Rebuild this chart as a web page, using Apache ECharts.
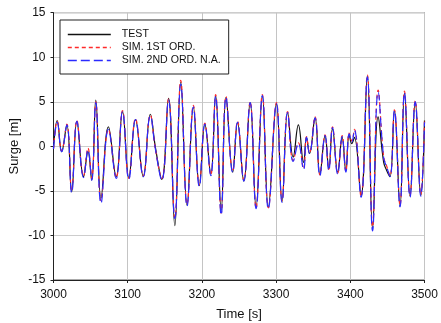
<!DOCTYPE html>
<html><head><meta charset="utf-8">
<script src="https://cdn.jsdelivr.net/npm/echarts@6/dist/echarts.min.js"></script>
<style>html,body{margin:0;padding:0;background:#fff}#c{width:441px;height:323px}</style>
</head><body><div id="c"></div>
<script>
var time  = [3000,3005,3011,3018,3024.5,3031.5,3040.5,3046.5,3051.5,3057,3064,3074,3084.5,3093,3101.5,3110.5,3121,3130.5,3137.5,3146,3155,3163.5,3171.5,3180,3188.5,3196.5,3204,3212,3218.5,3226,3232.5,3241.5,3248,3256.5,3265,3273,3281.5,3289.5,3300.5,3308,3315.5,3323,3330,3337,3341,3345,3352.5,3359,3366,3371,3376,3383,3389,3394,3398.5,3402,3405.5,3414.5,3423,3430,3437.5,3445,3449,3453.5,3459.5,3467,3473,3480.5,3487.5,3495,3500];
var test  = [-0.2,2.9,-0.6,2.4,-5.1,2.8,-3.4,-0.6,-3.8,5.2,-5.8,2.2,-3.4,3.9,-3.5,3.0,-3.4,3.6,-0.2,-3.7,5.4,-8.9,7.2,-6.6,4.4,-4.4,2.5,-3.1,5.7,-7.2,5.5,-2.9,2.7,-3.9,4.9,-6.8,5.7,-6.8,4.8,-6.2,3.8,-1.2,2.4,-1.8,1.0,-0.8,3.2,-3.1,1.2,-2.5,2.0,-2.9,1.0,-2.7,1.3,0.3,1.0,-5.5,7.9,-9.2,3.3,-1.8,-2.7,-3.4,4.0,-6.7,6.0,-5.6,5.0,-5.5,2.9];
var sim1  = [-0.3,2.8,-0.5,2.5,-5.0,2.9,-3.3,-0.2,-3.6,5.0,-6.1,1.9,-3.5,4.0,-3.6,3.1,-3.3,3.5,-0.4,-3.6,5.3,-8.0,7.4,-6.5,4.6,-4.3,2.6,-3.2,5.8,-7.5,5.6,-2.8,2.8,-3.8,5.0,-6.9,5.8,-6.9,4.9,-6.1,3.9,-1.6,0.4,-2.5,1.1,-0.7,3.3,-3.2,1.3,-2.6,2.2,-3.0,1.2,-2.8,1.5,0.6,1.9,-5.6,8.0,-9.0,6.3,-1.2,-2.2,-3.3,4.1,-6.6,6.2,-5.5,5.1,-5.4,2.8];
var sim2  = [-0.3,2.7,-0.6,2.4,-5.2,2.8,-3.5,-0.4,-3.8,4.9,-6.4,1.9,-3.6,3.9,-3.7,3.0,-3.4,3.4,-0.4,-3.8,5.2,-8.1,7.0,-6.7,4.4,-4.5,2.5,-3.3,5.6,-7.7,5.5,-2.9,2.7,-3.9,4.9,-7.0,5.7,-7.0,4.8,-6.3,3.8,-1.7,0.3,-2.6,1.0,-0.8,3.2,-3.3,1.2,-2.7,2.1,-3.1,1.1,-2.9,1.4,0.5,1.8,-5.7,7.8,-9.5,6.1,-1.3,-2.3,-3.4,4.0,-6.8,6.0,-5.7,5.0,-5.6,2.7];
var yTicks = [-15,-10,-5,0,5,10,15];
var xTicks = [3000,3100,3200,3300,3400,3500];
var names = ['TEST','SIM. 1ST ORD.','SIM. 2ND ORD. N.A.'];
var colors = ['#111111','#ff2a2a','#2a2aff'];
var dashes = ['solid',[4,3],[9,4]];

function pairs(v){ return time.map(function(t,i){ return [t, v[i]]; }); }

var chart = echarts.init(document.getElementById('c'), null, {renderer:'canvas'});
var font = 'Arial, "Liberation Sans", sans-serif';
chart.setOption({
  animation:false,
  backgroundColor:'#ffffff',
  grid:{left:53.5, right:16.5, top:12.7, bottom:43, show:true, borderColor:'#555', borderWidth:1,
        outerBoundsMode:'none', containLabel:false},
  legend:{
    orient:'vertical', left:60, top:20,
    padding:[9,8,8,7], itemGap:2, itemWidth:43, itemHeight:12,
    borderColor:'#222', borderWidth:1, backgroundColor:'#fff',
    itemStyle:{opacity:0},
    textStyle:{fontFamily:font, fontSize:10.6, color:'#111', padding:[0,0,0,6]},
    data:names.map(function(n,i){ return {name:n, lineStyle:{color:colors[i], width:1.6, type:dashes[i]}}; })
  },
  xAxis:{
    type:'value', min:3000, max:3500, interval:100,
    name:'Time [s]', nameLocation:'middle', nameGap:28,
    nameTextStyle:{fontFamily:font, fontSize:13, color:'#111'},
    axisLine:{show:true, onZero:false, lineStyle:{color:'#222', width:1}},
    axisTick:{show:true, inside:false, length:3, lineStyle:{color:'#222'}},
    axisLabel:{fontFamily:font, fontSize:12, color:'#111', margin:9,
      formatter:function(v){ return xTicks.indexOf(v)>=0 ? String(v) : ''; }},
    splitLine:{show:true, lineStyle:{color:'#c4c4c4', width:1}}
  },
  yAxis:{
    type:'value', min:-15, max:15, interval:5,
    name:'Surge [m]', nameLocation:'middle', nameGap:33, nameRotate:90, nameMoveOverlap:false,
    nameTextStyle:{fontFamily:font, fontSize:13, color:'#111'},
    axisLine:{show:true, onZero:false, lineStyle:{color:'#222', width:1}},
    axisTick:{show:true, inside:false, length:3, lineStyle:{color:'#222'}},
    axisLabel:{fontFamily:font, fontSize:12, color:'#111', margin:8,
      formatter:function(v){ return yTicks.indexOf(v)>=0 ? String(v) : ''; }},
    splitLine:{show:true, lineStyle:{color:'#cdcdcd', width:1}}
  },
  series:[
    {name:names[0], type:'line', data:pairs(test), smooth:0.45, symbol:'none',
     lineStyle:{color:colors[0], width:1.2, type:dashes[0]}, itemStyle:{color:colors[0]}},
    {name:names[1], type:'line', data:pairs(sim1), smooth:0.45, symbol:'none',
     lineStyle:{color:colors[1], width:1.2, type:dashes[1]}, itemStyle:{color:colors[1]}},
    {name:names[2], type:'line', data:pairs(sim2), smooth:0.45, symbol:'none',
     lineStyle:{color:colors[2], width:1.2, type:dashes[2]}, itemStyle:{color:colors[2]}}
  ]
});
</script></body></html>
